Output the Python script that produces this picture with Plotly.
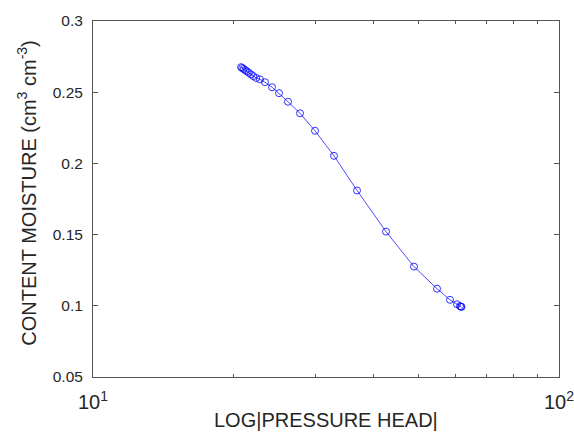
import plotly.graph_objects as go

pressure_head = [20.78, 20.90, 21.05, 21.22, 21.40, 21.60, 21.83, 22.08, 22.40, 22.82,
                 23.39, 24.22, 25.07, 26.21, 27.81, 29.95, 32.90, 36.86, 42.54, 48.84,
                 54.73, 58.36, 60.41, 61.32, 61.62, 61.75]
moisture = [0.2676, 0.2670, 0.2663, 0.2655, 0.2646, 0.2636, 0.2625, 0.2613, 0.2600, 0.2590,
            0.2570, 0.2535, 0.2493, 0.2433, 0.2352, 0.2229, 0.2053, 0.1810, 0.1521, 0.1275,
            0.1120, 0.1042, 0.1011, 0.0998, 0.0994, 0.0992]

x_tickvals = [10, 100]
x_ticktext = ["10<sup>1</sup>", "10<sup>2</sup>"]
y_tickvals = [0.05, 0.1, 0.15, 0.2, 0.25, 0.3]
y_ticktext = ["0.05", "0.1", "0.15", "0.2", "0.25", "0.3"]

FONT = "Liberation Sans, Arial, sans-serif"
AXC = "#555555"

fig = go.Figure()
fig.add_trace(go.Scatter(
    x=pressure_head, y=moisture, mode="lines+markers",
    line=dict(color="rgb(0,0,255)", width=0.7),
    marker=dict(symbol="circle-open", size=7, color="rgb(0,0,255)", line=dict(width=0.8, color="rgb(0,0,255)")),
    showlegend=False,
))

fig.update_layout(
    width=574, height=441,
    margin=dict(l=93, r=15, t=21, b=64),
    paper_bgcolor="white", plot_bgcolor="white",
    font=dict(family=FONT, color="#262626"),
    xaxis=dict(
        type="log", range=[0.999999, 2.000001], tickvals=x_tickvals, ticktext=x_ticktext,
        ticks="inside", ticklen=5, tickcolor=AXC, showline=True, linecolor=AXC, linewidth=1,
        mirror="allticks", showgrid=False, zeroline=False, automargin=False,
        tickfont=dict(size=20, family=FONT, color="#262626"),
        ticklabelstandoff=7, ticklabeloverflow="allow",
        minor=dict(ticks="inside", ticklen=3, tickcolor=AXC, dtick="D1", showgrid=False),
    ),
    yaxis=dict(
        range=[0.05, 0.3], tickvals=y_tickvals, ticktext=y_ticktext,
        ticks="inside", ticklen=5, tickcolor=AXC, showline=True, linecolor=AXC, linewidth=1,
        mirror="allticks", showgrid=False, zeroline=False, automargin=False,
        tickfont=dict(size=15.5, family=FONT, color="#262626"),
        ticklabelstandoff=6, ticklabeloverflow="allow",
    ),
    annotations=[
        dict(text="LOG|PRESSURE HEAD|", xref="paper", yref="paper", x=0.5, y=-0.12,
             xanchor="center", yanchor="middle", showarrow=False,
             font=dict(size=20, family=FONT, color="#262626")),
        dict(text="CONTENT MOISTURE (cm<sup>3</sup> cm<sup>-3</sup>)", xref="paper", yref="paper",
             x=-0.1416, y=0.515, textangle=-90, xanchor="center", yanchor="middle", showarrow=False,
             font=dict(size=20, family=FONT, color="#262626")),
    ],
)

fig.write_html("out.html")
